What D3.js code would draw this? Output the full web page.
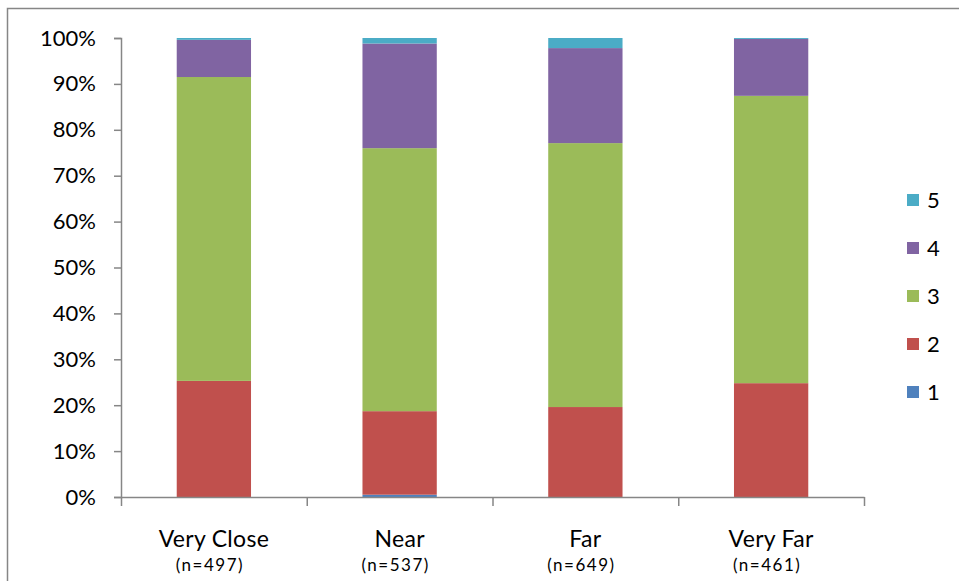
<!DOCTYPE html>
<html>
<head>
<meta charset="utf-8">
<script src="https://cdn.jsdelivr.net/npm/d3@7"></script>
<style>
  html, body { margin: 0; padding: 0; background: #fff; }
  svg { display: block; }
  text { font-family: Lato, "Open Sans", sans-serif; fill: #000; }
</style>
</head>
<body>
<svg id="chart" width="959" height="581"></svg>
<script>
// Distance categories and their sample sizes
const categories = ["Very Close", "Near", "Far", "Very Far"];
const sampleSizes = ["(n=497)", "(n=537)", "(n=649)", "(n=461)"];

// Response shares (%) for each rating, one value per category
const rating1 = [0.0, 0.5, 0.0, 0.0];
const rating2 = [25.3, 18.2, 19.6, 24.8];
const rating3 = [66.2, 57.3, 57.5, 62.6];
const rating4 = [8.1, 22.8, 20.7, 12.4];
const rating5 = [0.4, 1.2, 2.2, 0.2];

const seriesNames = ["1", "2", "3", "4", "5"];
const seriesValues = [rating1, rating2, rating3, rating4, rating5];
const seriesColors = ["#4F81BD", "#C0504D", "#9BBB59", "#8064A2", "#4BACC6"];

const yTicks = [0, 10, 20, 30, 40, 50, 60, 70, 80, 90, 100];

const svg = d3.select("#chart");
const axisColor = "#868686";

// Outer chart frame (left and top edges visible)
svg.append("path")
  .attr("d", "M7.5,581 L7.5,8.5 L959,8.5")
  .attr("fill", "none")
  .attr("stroke", axisColor)
  .attr("stroke-width", 1.5);

const plot = { left: 121, right: 864, top: 38, bottom: 497 };

const rows = categories.map((c, i) => {
  const r = { category: c };
  seriesNames.forEach((s, k) => { r[s] = seriesValues[k][i]; });
  return r;
});
const stacked = d3.stack().keys(seriesNames)(rows);

const x = d3.scaleBand()
  .domain(categories)
  .range([plot.left, plot.right])
  .paddingInner(0.6)
  .paddingOuter(0.3);

const y = d3.scaleLinear().domain([0, 100]).range([plot.bottom, plot.top]);

// Stacked bars
const layers = svg.append("g").selectAll("g")
  .data(stacked)
  .join("g")
  .attr("fill", (d, i) => seriesColors[i]);

layers.selectAll("rect")
  .data(d => d)
  .join("rect")
  .attr("x", d => x(d.data.category))
  .attr("width", x.bandwidth())
  .attr("y", d => y(d[1]))
  .attr("height", d => y(d[0]) - y(d[1]));

// Y axis
const yAxis = d3.axisLeft(y)
  .tickValues(yTicks)
  .tickFormat(d => d + "%")
  .tickSize(7)
  .tickPadding(18);

const yg = svg.append("g")
  .attr("transform", `translate(${plot.left},0)`)
  .call(yAxis);
yg.select(".domain").attr("stroke", axisColor).attr("stroke-width", 1.5);
yg.selectAll(".tick line").attr("stroke", axisColor).attr("stroke-width", 1.5);
yg.selectAll(".tick text")
  .attr("font-size", 22)
  .attr("font-family", "Lato, sans-serif")
  .attr("fill", "#000");

// X axis: boundary ticks between categories
const xEdge = d3.scaleLinear().domain([0, categories.length]).range([plot.left, plot.right]);
const xAxis = d3.axisBottom(xEdge)
  .tickValues(d3.range(categories.length + 1))
  .tickFormat("")
  .tickSizeInner(9)
  .tickSizeOuter(0);
const xg = svg.append("g")
  .attr("transform", `translate(0,${plot.bottom})`)
  .call(xAxis);
xg.select(".domain").attr("stroke", axisColor).attr("stroke-width", 1.5);
xg.selectAll(".tick line").attr("stroke", axisColor).attr("stroke-width", 1.5);

// Category labels with sample sizes
const catLabels = svg.append("g").selectAll("g")
  .data(categories)
  .join("g")
  .attr("transform", d => `translate(${x(d) + x.bandwidth() / 2},0)`);
catLabels.append("text")
  .attr("y", 547)
  .attr("text-anchor", "middle")
  .attr("font-size", 23)
  .attr("letter-spacing", 0.3)
  .text(d => d);
catLabels.append("text")
  .attr("x", -4)
  .attr("y", 571)
  .attr("text-anchor", "middle")
  .attr("font-size", 17)
  .attr("letter-spacing", 1.5)
  .text((d, i) => sampleSizes[i]);

// Legend, highest rating on top
const legendOrder = seriesNames.map((s, i) => i).reverse();
const legend = svg.append("g").selectAll("g")
  .data(legendOrder)
  .join("g")
  .attr("transform", (d, j) => `translate(907,${194 + j * 48})`);
legend.append("rect")
  .attr("width", 12)
  .attr("height", 12)
  .attr("fill", d => seriesColors[d]);
legend.append("text")
  .attr("x", 20)
  .attr("y", 14)
  .attr("font-size", 22)
  .text(d => seriesNames[d]);
</script>
</body>
</html>
